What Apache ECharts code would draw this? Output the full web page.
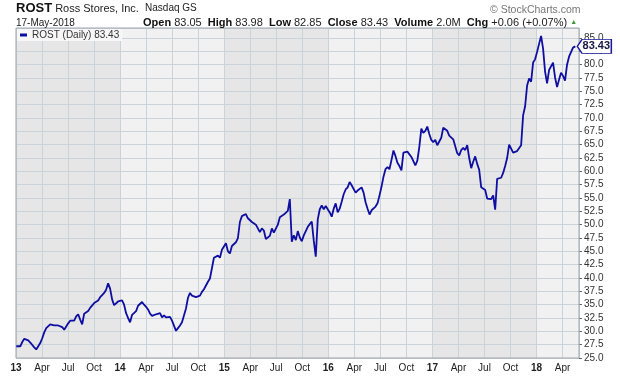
<!DOCTYPE html>
<html>
<head>
<meta charset="utf-8">
<script src="https://cdn.jsdelivr.net/npm/echarts@6/dist/echarts.min.js"></script>
<style>
  html, body { margin: 0; padding: 0; background: #fff; }
  #chart { width: 620px; height: 376px; }
</style>
</head>
<body>
<div id="chart"></div>
<script>
// weekly closes, first week starts 2013-01-02
var weekStart = '2013-01-02';
var weeklyClose = [
  27.2, 26.9, 27.2, 28.0, 28.6, 28.7, 28.3, 27.9, 28.2, 27.0,
  26.6, 26.4, 27.8, 28.7, 29.8, 30.6, 30.5, 31.3, 31.5, 31.1,
  31.4, 31.1, 30.8, 30.8, 30.3, 30.9, 31.5, 32.0, 32.3, 32.0,
  32.8, 33.2, 32.2, 31.3, 33.3, 33.5, 33.8, 34.4, 34.4, 35.3,
  35.1, 35.8, 36.4, 36.8, 37.2, 37.8, 39.0, 38.0, 36.0, 34.9,
  34.6, 35.6, 35.9, 35.8, 35.0, 33.4, 32.5, 31.7, 33.1, 32.9,
  33.8, 34.8, 34.8, 35.5, 35.0, 34.6, 34.1, 33.3, 32.9, 32.8,
  33.2, 32.9, 33.4, 32.6, 33.0, 32.6, 32.3, 32.7, 32.0, 32.1,
  30.1, 30.6, 31.1, 31.7, 32.0, 34.3, 36.3, 37.2, 36.7, 36.9,
  36.4, 36.4, 36.7, 37.4, 37.9, 38.6, 39.3, 39.9,
  40.1, 43.8, 43.8, 44.2, 43.8, 45.3, 45.6, 46.5, 45.0, 44.6,
  46.0, 46.0, 46.7, 47.5, 50.5, 51.6, 51.9, 52.0, 51.2, 51.1,
  50.5, 50.4, 50.0, 50.3, 48.6, 49.3, 48.9, 47.3, 47.4, 47.9,
  49.3, 48.5, 48.8, 50.0, 51.4, 51.5, 51.9, 52.1, 52.6, 54.8,
  46.8, 48.0, 47.1, 48.8, 47.6, 46.9, 48.0, 47.7,
  49.6, 50.1, 50.6, 47.0, 44.0, 51.0, 52.9, 53.6, 52.9, 53.5,
  53.5, 52.3, 51.5, 53.0, 54.0, 52.3, 53.0, 54.3, 55.7, 56.6,
  57.0, 58.0, 57.4, 57.4, 56.0, 56.4, 56.6, 57.0, 56.0, 54.2,
  53.0, 51.9, 52.7, 52.6, 53.4, 54.0, 55.5, 57.1, 59.0, 60.4,
  60.8, 60.4, 62.1, 63.9, 62.9, 61.6, 61.0, 60.2,
  63.5, 63.3, 63.7, 63.8, 62.7, 62.8, 61.1, 62.0, 64.6, 68.0,
  67.2, 67.6, 68.4, 67.0, 65.9, 65.5, 65.9, 64.9, 65.2, 66.3,
  68.2, 68.2, 67.6, 66.7, 66.8, 66.0, 65.7, 63.4, 63.0, 64.0,
  64.4, 64.0, 64.9, 62.5, 60.6, 61.8, 62.8, 61.4, 60.3, 57.0,
  57.3, 56.5, 54.9, 55.1, 54.8, 55.5,
  52.8, 58.6, 58.6, 58.8, 59.7, 61.0, 62.5, 65.0, 65.0, 63.5,
  63.7, 63.8, 63.9, 64.9, 70.5, 72.2, 76.1, 77.4, 76.8, 80.4,
  81.0, 82.4, 82.7, 85.4, 83.0, 78.7, 76.5, 79.0, 79.0, 80.4,
  77.6, 75.8, 77.2, 78.5, 77.9, 77.0, 80.0, 81.5, 81.8, 83.2
];
var lastDate = '2018-05-17';
var lastClose = 83.43;

var monthLabels = ['', 'Apr', 'Jul', 'Oct'];
var quoteLabels = ['Open', 'High', 'Low', 'Close', 'Volume', 'Chg'];
var quoteValues = ['83.05', '83.98', '82.85', '83.43', '2.0M', '+0.06 (+0.07%)'];

var DAY = 86400000;

// date -> fractional year (2013.0 = 1 Jan 2013)
function toYear(ms) {
  var y = new Date(ms).getUTCFullYear();
  var a = Date.UTC(y, 0, 1), b = Date.UTC(y + 1, 0, 1);
  return y + (ms - a) / (b - a);
}

var t0 = Date.parse(weekStart + 'T00:00:00Z');
var points = weeklyClose.map(function (v, i) {
  return [toYear(t0 + i * 7 * DAY), v];
});
var lastX = toYear(Date.parse(lastDate + 'T00:00:00Z'));
points.push([lastX, lastClose]);

var quoteText = quoteLabels.map(function (l, i) {
  return '{b|' + l + '} ' + quoteValues[i];
}).join('  ') + ' {g|▲}';

var chart = echarts.init(document.getElementById('chart'));
var option = {
  animation: false,
  backgroundColor: '#fff',
  title: [
    {
      text: '{a|ROST} {b|Ross Stores, Inc.}  {c|Nasdaq GS}',
      left: 16, top: 2, padding: 0,
      textStyle: {
        fontFamily: 'Liberation Sans', fontSize: 11, fontWeight: 'normal', color: '#111',
        rich: {
          a: { fontFamily: 'Liberation Sans', fontSize: 13, fontWeight: 'bold', color: '#111' },
          b: { fontFamily: 'Liberation Sans', fontSize: 11, fontWeight: 'normal', color: '#222' },
          c: { fontFamily: 'Liberation Sans', fontSize: 10, fontWeight: 'normal', color: '#222' }
        }
      }
    },
    {
      text: '© StockCharts.com',
      left: 490, top: 5, padding: 0,
      textStyle: { fontFamily: 'Liberation Sans', fontSize: 10.5, fontWeight: 'normal', color: '#777' }
    },
    {
      text: '17-May-2018',
      left: 16, top: 18, padding: 0,
      textStyle: { fontFamily: 'Liberation Sans', fontSize: 10, fontWeight: 'normal', color: '#222' }
    },
    {
      text: quoteText,
      left: 143, top: 17, padding: 0,
      textStyle: {
        fontFamily: 'Liberation Sans', fontSize: 11, fontWeight: 'normal', color: '#222',
        rich: {
          b: { fontFamily: 'Liberation Sans', fontSize: 11, fontWeight: 'bold', color: '#111' },
          g: { fontSize: 7, fontWeight: 'normal', color: '#3a9a3a' }
        }
      }
    }
  ],
  legend: {
    data: ['ROST (Daily)'],
    left: 17, top: 29,
    padding: [1, 3, 1, 3],
    icon: 'rect', itemWidth: 7, itemHeight: 3,
    backgroundColor: 'rgba(248,248,248,0.9)',
    formatter: function (name) { return name + ' ' + lastClose.toFixed(2); },
    textStyle: { fontFamily: 'Liberation Sans', fontSize: 10, color: '#333' }
  },
  grid: {
    left: 16, right: 41, top: 28, bottom: 18,
    show: true, borderColor: '#9ea6ae', borderWidth: 1,
    backgroundColor: 'transparent', z: 3
  },
  xAxis: [
    {
      // year shading
      type: 'value', position: 'bottom', min: 2013, max: 2018.408, interval: 1, z: 0,
      axisLine: { show: false }, axisTick: { show: false }, axisLabel: { show: false },
      splitLine: { show: false },
      splitArea: { show: true, areaStyle: { color: ['#e6e6e6', '#f1f1f1'] } }
    },
    {
      type: 'value', position: 'bottom', min: 2013, max: 2018.408, interval: 0.25, z: 1,
      axisLine: { show: false },
      axisTick: { show: false },
      splitLine: { show: true, lineStyle: { color: '#cad2da', width: 1 } },
      axisLabel: {
        margin: 5, showMaxLabel: false,
        fontFamily: 'Liberation Sans', fontSize: 10, color: '#222',
        formatter: function (v) {
          var y = Math.floor(v + 1e-6);
          var q = Math.round((v - y) * 4);
          if (q === 0) return '{y|' + String(y).slice(2) + '}';
          return monthLabels[q];
        },
        rich: { y: { fontFamily: 'Liberation Sans', fontSize: 10, fontWeight: 'bold', color: '#222' } }
      }
    }
  ],
  yAxis: {
    type: 'value', position: 'right', min: 25, max: 86.88, interval: 2.5, z: 1,
    axisLine: { show: false },
    axisTick: { show: true, length: 3, lineStyle: { color: '#666' } },
    splitLine: { show: true, lineStyle: { color: '#cad2da', width: 1 } },
    axisLabel: {
      margin: 5, showMaxLabel: false,
      fontFamily: 'Liberation Sans', fontSize: 10, color: '#333',
      formatter: function (v) {
        var k = v / 2.5;
        return Math.abs(k - Math.round(k)) < 1e-6 ? v.toFixed(1) : '';
      }
    }
  },
  series: [{
    name: 'ROST (Daily)',
    type: 'line',
    xAxisIndex: 1,
    data: points,
    showSymbol: false,
    symbol: 'none',
    lineStyle: { color: '#0e0ea2', width: 1.8 },
    itemStyle: { color: '#0e0ea2' },
    z: 4,
    markPoint: {
      symbol: 'path://M0,6 L5,0 L36,0 L36,12 L5,12 Z',
      symbolKeepAspect: false,
      symbolSize: [34, 14],
      symbolOffset: [19, 0],
      itemStyle: { color: '#fff', borderColor: '#1a1a9a', borderWidth: 1 },
      label: {
        show: true, position: 'inside', offset: [2, 0],
        fontFamily: 'Liberation Sans', fontSize: 11, fontWeight: 'bold', color: '#16164a',
        formatter: function () { return lastClose.toFixed(2); }
      },
      data: [{ coord: [lastX, lastClose], value: lastClose }]
    }
  }]
};
chart.setOption(option);
</script>
</body>
</html>
